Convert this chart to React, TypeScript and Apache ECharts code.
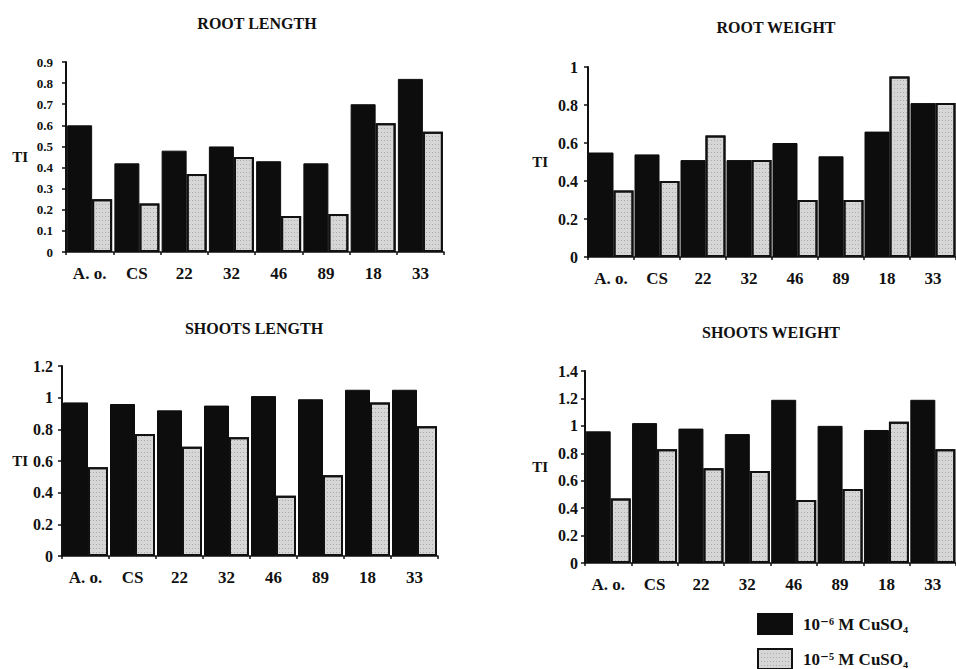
import React, { useEffect, useRef } from "react";
import * as echarts from "echarts";

const categories = ["A. o.", "CS", "22", "32", "46", "89", "18", "33"];
const seriesNames = ["10⁻⁶ M CuSO₄", "10⁻⁵ M CuSO₄"];

const rootLengthLow = [0.6, 0.42, 0.48, 0.5, 0.43, 0.42, 0.7, 0.82];
const rootLengthHigh = [0.25, 0.23, 0.37, 0.45, 0.17, 0.18, 0.61, 0.57];

const rootWeightLow = [0.55, 0.54, 0.51, 0.51, 0.6, 0.53, 0.66, 0.81];
const rootWeightHigh = [0.35, 0.4, 0.64, 0.51, 0.3, 0.3, 0.95, 0.81];

const shootsLengthLow = [0.97, 0.96, 0.92, 0.95, 1.01, 0.99, 1.05, 1.05];
const shootsLengthHigh = [0.56, 0.77, 0.69, 0.75, 0.38, 0.51, 0.97, 0.82];

const shootsWeightLow = [0.96, 1.02, 0.98, 0.94, 1.19, 1.0, 0.97, 1.19];
const shootsWeightHigh = [0.47, 0.83, 0.69, 0.67, 0.46, 0.54, 1.03, 0.83];

const panelTitles = ["ROOT LENGTH", "ROOT WEIGHT", "SHOOTS LENGTH", "SHOOTS WEIGHT"];
const yMax = [0.9, 1, 1.2, 1.4];
const yInterval = [0.1, 0.2, 0.2, 0.2];

const FONT = "'Liberation Serif', 'DejaVu Serif', serif";

export default function App() {
  const ref = useRef<HTMLDivElement>(null);
  useEffect(() => {
    if (!ref.current) return;
    const chart = echarts.init(ref.current, null, { renderer: "svg" });

    const grids = [
      { left: 66, top: 62, width: 378, height: 190 },
      { left: 588, top: 67, width: 374, height: 190 },
      { left: 62, top: 366, width: 376, height: 190 },
      { left: 585, top: 371, width: 374, height: 192 },
    ];
    const labelMargins = [13, 10, 9, 7];
    const labelSizes = [13, 16, 16, 16];
    const nameGaps = [38, 40, 34, 37];
    const titlePos = [
      [257, 23],
      [776, 27],
      [254, 328],
      [771, 332],
    ];
    const lows = [rootLengthLow, rootWeightLow, shootsLengthLow, shootsWeightLow];
    const highs = [rootLengthHigh, rootWeightHigh, shootsLengthHigh, shootsWeightHigh];

    const xAxis = grids.map((_, i) => ({
      type: "category",
      gridIndex: i,
      data: categories,
      axisLine: { lineStyle: { color: "#111", width: 1.5 } },
      axisTick: { show: true, length: 3, lineStyle: { color: "#111", width: 1.5 } },
      axisLabel: {
        color: "#111",
        fontFamily: FONT,
        fontWeight: "bold",
        fontSize: 17,
        margin: 13,
      },
    }));

    const yAxis = grids.map((_, i) => ({
      type: "value",
      gridIndex: i,
      min: 0,
      max: yMax[i],
      interval: yInterval[i],
      name: "TI",
      nameLocation: "middle",
      nameRotate: 0,
      nameGap: nameGaps[i],
      nameTextStyle: { color: "#111", fontFamily: FONT, fontWeight: "bold", fontSize: 15 },
      splitLine: { show: false },
      axisLine: { show: true, lineStyle: { color: "#111", width: 2 } },
      axisTick: { show: true, length: 4, lineStyle: { color: "#111", width: 1.5 } },
      axisLabel: {
        color: "#111",
        fontFamily: FONT,
        fontWeight: "bold",
        fontSize: labelSizes[i],
        margin: labelMargins[i],
      },
    }));

    const series: any[] = [];
    grids.forEach((_, i) => {
      series.push({
        name: seriesNames[0],
        type: "bar",
        xAxisIndex: i,
        yAxisIndex: i,
        data: lows[i],
        barWidth: 25,
        barGap: "0%",
        itemStyle: { color: "#0d0d0d", borderColor: "#0d0d0d", borderWidth: 1 },
      });
      series.push({
        name: seriesNames[1],
        type: "bar",
        xAxisIndex: i,
        yAxisIndex: i,
        data: highs[i],
        barWidth: 20,
        barGap: "0%",
        itemStyle: {
          color: "#d6d6d6",
          borderColor: "#111",
          borderWidth: 2,
          decal: {
            symbol: "rect",
            symbolSize: 1,
            dashArrayX: [1, 2],
            dashArrayY: [1, 3],
            color: "rgba(90,90,90,0.35)",
          },
        },
      });
    });

    const graphic = panelTitles.map((t, i) => ({
      type: "text",
      x: titlePos[i][0],
      y: titlePos[i][1],
      style: {
        text: t,
        fill: "#111",
        font: `bold 16px ${FONT}`,
        textAlign: "center",
        textVerticalAlign: "middle",
      },
    }));

    const legendBase = {
      orient: "vertical",
      left: 757,
      itemWidth: 34,
      itemHeight: 20,
      icon: "rect",
      padding: 0,
      textStyle: {
        color: "#111",
        fontFamily: FONT,
        fontWeight: "bold",
        fontSize: 17,
        padding: [0, 0, 0, 6],
      },
    };

    chart.setOption({
      animation: false,
      backgroundColor: "#fff",
      grid: grids,
      xAxis,
      yAxis,
      series,
      graphic,
      legend: [
        { ...legendBase, data: [seriesNames[0]], top: 613 },
        { ...legendBase, data: [seriesNames[1]], top: 648 },
      ],
    });
    return () => chart.dispose();
  }, []);

  return (
    <div
      ref={ref}
      style={{ position: "absolute", left: 0, top: 0, width: 956, height: 669, background: "#fff" }}
    />
  );
}
